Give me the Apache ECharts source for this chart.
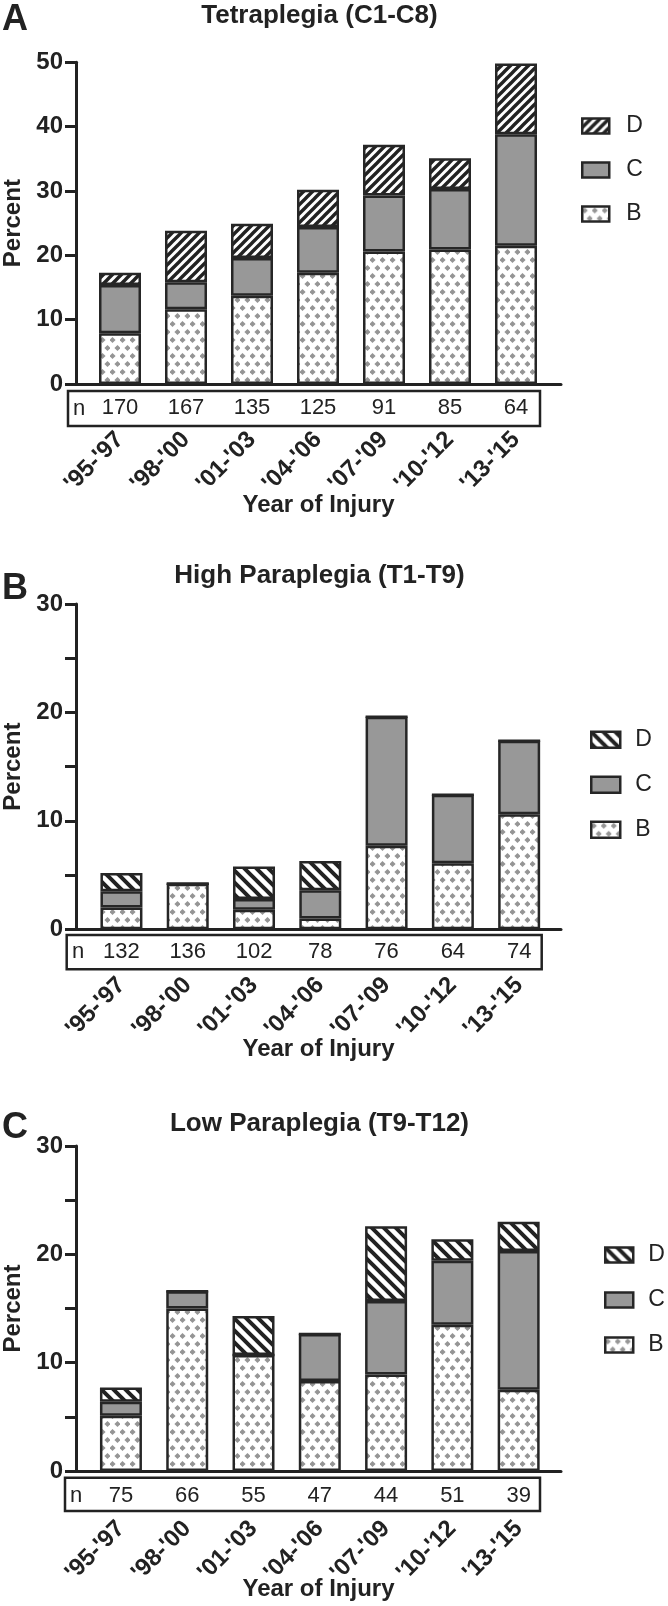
<!DOCTYPE html>
<html>
<head>
<meta charset="utf-8">
<script src="https://cdn.jsdelivr.net/npm/echarts@6/dist/echarts.min.js"></script>
<style>
html,body{margin:0;padding:0;background:#fff;}
#wrap{position:relative;width:668px;height:1606px;}
.panel{position:absolute;left:0;width:668px;}
</style>
</head>
<body>
<div id="wrap">
  <div id="pA" class="panel" style="top:0;height:540px;"></div>
  <div id="pB" class="panel" style="top:540px;height:545px;"></div>
  <div id="pC" class="panel" style="top:1060px;height:546px;"></div>
</div>
<script>
// ---------- data ----------
const categories = ["'95-'97", "'98-'00", "'01-'03", "'04-'06", "'07-'09", "'10-'12", "'13-'15"];

const tetraB = [7.9, 11.6, 13.7, 17.3, 20.6, 20.9, 21.5];
const tetraC = [7.5, 4.2, 5.9, 7.1, 8.7, 9.4, 17.3];
const tetraD = [1.9, 8.0, 5.3, 5.8, 7.9, 4.8, 11.0];
const tetraN = [170, 167, 135, 125, 91, 85, 64];

const highB = [2.0, 4.2, 1.8, 1.0, 7.7, 6.1, 10.6];
const highC = [1.5, 0, 1.0, 2.6, 11.9, 6.3, 6.8];
const highD = [1.7, 0, 3.0, 2.7, 0, 0, 0];
const highN = [132, 136, 102, 78, 76, 64, 74];

const lowB = [5.1, 15.0, 10.7, 8.3, 8.9, 13.5, 7.5];
const lowC = [1.3, 1.6, 0, 4.35, 6.8, 5.9, 12.8];
const lowD = [1.3, 0, 3.6, 0, 6.9, 2.0, 2.7];
const lowN = [75, 66, 55, 47, 44, 51, 39];

const seriesNames = ['B', 'C', 'D'];
const legendOrder = ['D', 'C', 'B'];

// ---------- styles ----------
const FONT = "'Liberation Sans', Arial, Helvetica, sans-serif";
const INK = '#222222';
const EDGE = '#262626';
const GRAY = '#989898';

function diamondPattern() {
  const c = document.createElement('canvas');
  c.width = 10; c.height = 16;
  const g = c.getContext('2d');
  g.fillStyle = '#ffffff'; g.fillRect(0, 0, 10, 16);
  g.fillStyle = '#959595';
  const pts = [[2.5, 4], [7.5, 12]];
  const r = 3.1;
  pts.forEach(([x, y]) => {
    g.beginPath();
    g.moveTo(x, y - r); g.lineTo(x + r, y); g.lineTo(x, y + r); g.lineTo(x - r, y);
    g.closePath(); g.fill();
  });
  return { image: c, repeat: 'repeat' };
}

function stripePattern(p, w, forward) {
  const c = document.createElement('canvas');
  c.width = p; c.height = p;
  const g = c.getContext('2d');
  g.fillStyle = '#ffffff'; g.fillRect(0, 0, p, p);
  g.strokeStyle = INK; g.lineWidth = w; g.lineCap = 'square';
  if (forward) {
    [0, p, 2 * p].forEach(k => {
      g.beginPath(); g.moveTo(-2, k + 2); g.lineTo(k + 2, -2); g.stroke();
    });
  } else {
    [-p, 0, p].forEach(k => {
      g.beginPath(); g.moveTo(-2, k - 2); g.lineTo(p + 2, k + p + 2); g.stroke();
    });
  }
  return { image: c, repeat: 'repeat' };
}

function buildPanel(el, cfg) {
  const chart = echarts.init(el, null, { renderer: 'canvas' });
  const fills = [diamondPattern(), GRAY, stripePattern(cfg.stripeP, cfg.stripeW, cfg.forward)];
  const datas = [cfg.b, cfg.c, cfg.d];
  const yTop = cfg.yTop, yH = cfg.y0 - cfg.yTop;
  const option = {
    animation: false,
    textStyle: { fontFamily: FONT },
    grid: [
      { left: 76, top: yTop, width: 485, height: yH, containLabel: false, outerBoundsMode: 'none' },
      { left: cfg.barLeft, top: yTop, width: cfg.barWidthGrid, height: yH, containLabel: false, outerBoundsMode: 'none' }
    ],
    xAxis: [
      {
        gridIndex: 0, type: 'value', min: 0, max: 1,
        axisLine: { show: true, lineStyle: { color: INK, width: 3 } },
        axisTick: { show: false }, axisLabel: { show: false }, splitLine: { show: false },
        name: 'Year of Injury', nameLocation: 'middle', nameGap: cfg.xNameGap,
        nameTextStyle: { fontFamily: FONT, fontWeight: 'bold', fontSize: 24, color: INK }
      },
      {
        gridIndex: 1, type: 'category', data: categories, position: 'bottom',
        axisLine: { show: false }, axisTick: { show: false }, splitLine: { show: false },
        axisLabel: { interval: 0, rotate: 45, margin: cfg.catMargin, fontFamily: FONT, fontWeight: 'bold', fontSize: 24, color: INK }
      },
      {
        gridIndex: 1, type: 'category', data: categories, position: 'bottom', offset: 0,
        axisLine: { show: false }, axisTick: { show: false }, splitLine: { show: false },
        axisLabel: {
          interval: 0, margin: cfg.nMargin, fontFamily: FONT, fontSize: 22, color: INK,
          formatter: (v, i) => String(cfg.n[i])
        }
      }
    ],
    yAxis: [
      {
        gridIndex: 0, type: 'value', min: 0, max: cfg.yMax, interval: 10,
        axisLine: { show: true, lineStyle: { color: INK, width: 3 } },
        axisTick: { show: true, length: 11, lineStyle: { color: INK, width: 3 } },
        minorTick: { show: cfg.minor, splitNumber: 2, length: 11, lineStyle: { color: INK, width: 3 } },
        axisLabel: { margin: 13, fontFamily: FONT, fontWeight: 'bold', fontSize: 24, color: INK },
        splitLine: { show: false },
        name: 'Percent', nameLocation: 'middle', nameGap: 50, nameRotate: 90,
        nameTextStyle: { fontFamily: FONT, fontWeight: 'bold', fontSize: 24, color: INK }
      },
      { gridIndex: 1, type: 'value', min: 0, max: cfg.yMax, show: false }
    ],
    legend: {
      data: legendOrder, orient: 'vertical', left: cfg.legLeft, top: cfg.legTop,
      padding: 0, itemGap: cfg.legGap, itemWidth: cfg.legW, itemHeight: cfg.legH, icon: 'rect',
      itemStyle: { borderColor: EDGE, borderWidth: 2.5 },
      textStyle: { fontFamily: FONT, fontSize: 23, color: INK, lineHeight: 22, padding: [0, 0, 0, cfg.legPad] }
    },
    series: seriesNames.map((nm, k) => ({
      name: nm, type: 'bar', stack: 'total', xAxisIndex: 1, yAxisIndex: 1,
      barWidth: 42, data: datas[k],
      itemStyle: { color: fills[k], borderColor: EDGE, borderWidth: 2.5 },
      emphasis: { disabled: true }
    })),
    graphic: [
      { type: 'text', style: { text: cfg.letter, x: 2, y: cfg.letterY, textVerticalAlign: 'middle', fontFamily: FONT, fontWeight: 'bold', fontSize: 36, fill: INK } },
      { type: 'text', style: { text: cfg.title, x: 319.5, y: cfg.titleY, textAlign: 'center', textVerticalAlign: 'middle', fontFamily: FONT, fontWeight: 'bold', fontSize: 26, fill: INK } },
      { type: 'rect', shape: { x: cfg.box[0], y: cfg.box[1], width: cfg.box[2], height: cfg.box[3] }, style: { fill: 'none', stroke: INK, lineWidth: 2.5 } },
      { type: 'text', style: { text: 'n', x: cfg.nPos[0], y: cfg.nPos[1], textAlign: 'center', textVerticalAlign: 'middle', fontFamily: FONT, fontSize: 22, fill: INK } }
    ]
  };
  chart.setOption(option);
  return chart;
}

buildPanel(document.getElementById('pA'), {
  letter: 'A', letterY: 20, title: 'Tetraplegia (C1-C8)', titleY: 16,
  b: tetraB, c: tetraC, d: tetraD, n: tetraN,
  yMax: 50, minor: false, yTop: 62.3, y0: 384,
  barLeft: 87, barWidthGrid: 462,
  stripeP: 9, stripeW: 3.4, forward: true,
  xNameGap: 109, catMargin: 52, nMargin: 13,
  box: [68, 391, 472, 35], nPos: [79, 408.5],
  legLeft: 581, legTop: 114.5, legGap: 21, legW: 27, legH: 15, legPad: 12
});

buildPanel(document.getElementById('pB'), {
  letter: 'B', letterY: 49.5, title: 'High Paraplegia (T1-T9)', titleY: 36,
  b: highB, c: highC, d: highD, n: highN,
  yMax: 30, minor: true, yTop: 64, y0: 389.3,
  barLeft: 88.3, barWidthGrid: 464,
  stripeP: 12, stripeW: 4, forward: false,
  xNameGap: 108, catMargin: 52, nMargin: 12,
  box: [66.7, 395, 475, 34.3], nPos: [78, 412],
  legLeft: 590, legTop: 188.3, legGap: 22, legW: 29, legH: 16, legPad: 10
});

buildPanel(document.getElementById('pC'), {
  letter: 'C', letterY: 68.5, title: 'Low Paraplegia (T9-T12)', titleY: 64,
  b: lowB, c: lowC, d: lowD, n: lowN,
  yMax: 30, minor: true, yTop: 86, y0: 411,
  barLeft: 87.8, barWidthGrid: 464,
  stripeP: 12, stripeW: 4, forward: false,
  xNameGap: 106, catMargin: 54, nMargin: 13.5,
  box: [65, 417.7, 475, 33.3], nPos: [76, 435.5],
  legLeft: 604, legTop: 183.5, legGap: 22, legW: 28, legH: 15, legPad: 10
});
</script>
</body>
</html>
